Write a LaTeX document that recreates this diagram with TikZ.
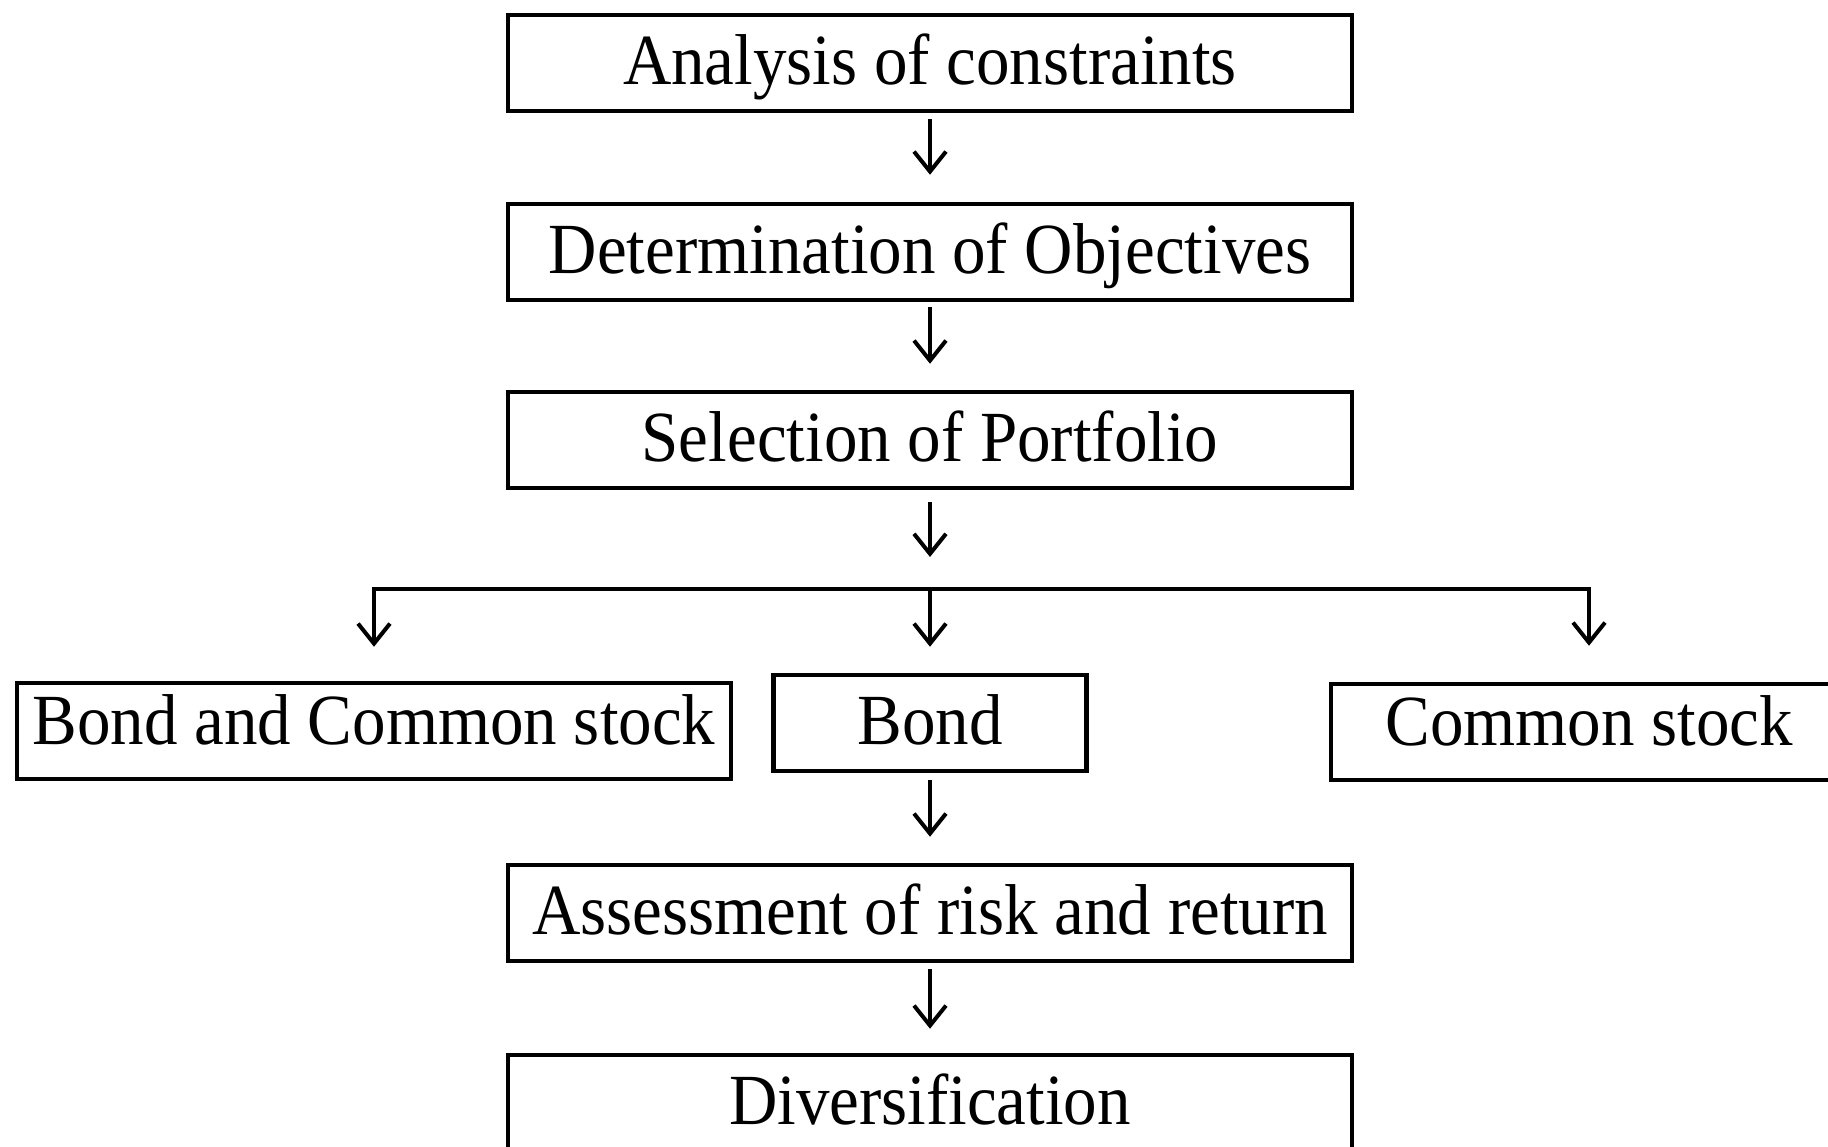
\documentclass[tikz,border=0pt]{standalone}
\usepackage{fontspec}
\setmainfont{Liberation Serif}[FakeStretch=0.93]
\usetikzlibrary{arrows.meta}
\begin{document}
\begin{tikzpicture}[x=1pt,y=-1pt,
  box/.style={draw,line width=4.5pt,inner sep=0pt,minimum height=96pt,
    text height=50pt,text depth=8pt,font=\fontsize{72}{84}\selectfont},
  wide/.style={box,minimum width=844pt},
  low/.style={text height=42pt,text depth=16pt},
  arr/.style={line width=4pt,-{Straight Barb[length=20pt,width=32pt]}}]
\useasboundingbox (0,0) rectangle (1828,1146);
\clip (0,0) rectangle (1828,1146);
% main column
\node[wide] (anal) at (930,63) {Analysis of constraints};
\node[wide] (obj) at (930,252) {Determination of Objectives};
\node[wide] (sel) at (930,440) {Selection of Portfolio};
\node[box,low,minimum width=714pt] (bcs) at (374,731) {Bond and Common stock};
\node[box,minimum width=313pt] (bond) at (930,723) {Bond};
\node[box,low,minimum width=516pt] (cs) at (1589,732) {Common stock};
\node[wide] (risk) at (930,913) {Assessment of risk and return};
\node[wide] (div) at (930,1103) {Diversification};
\coordinate (split) at (930,589);
% arrows
\draw[arr,shorten <=6pt,shorten >=27pt] (anal) -- (obj);
\draw[arr,shorten <=5pt,shorten >=26pt] (obj) -- (sel);
\draw[arr,shorten <=12pt,shorten >=32pt] (sel) -- (split);
\draw[line width=4.5pt,line cap=rect] (bcs.north |- split) -- (cs.north |- split);
\draw[arr,shorten >=34pt] (bcs.north |- split) -- (bcs.north);
\draw[arr,shorten >=26pt] (split) -- (bond.north);
\draw[arr,shorten >=36pt] (cs.north |- split) -- (cs.north);
\draw[arr,shorten <=7pt,shorten >=26pt] (bond) -- (risk);
\draw[arr,shorten <=6pt,shorten >=24pt] (risk) -- (div);
\end{tikzpicture}
\end{document}
